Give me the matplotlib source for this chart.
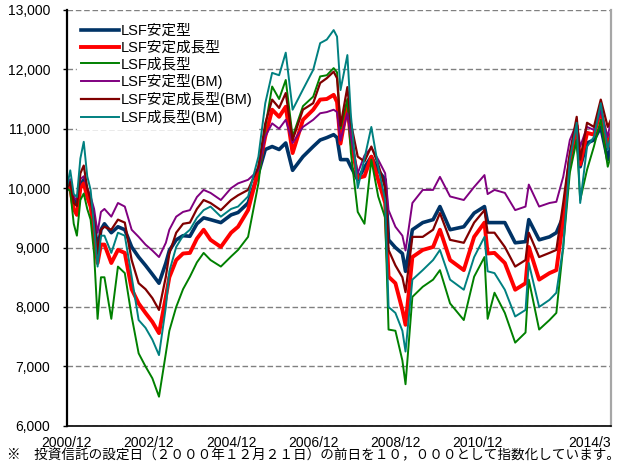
import numpy as np
import pandas as pd
import matplotlib
matplotlib.use("Agg")
from matplotlib import pyplot as plt
from matplotlib.ticker import FuncFormatter

plt.rcParams['font.family'] = ['Liberation Sans', 'Noto Sans CJK JP', 'DejaVu Sans']

# month of each reading (index = 10,000 on the day before 2000/12/21)
months = ["2000-12", "2001-01", "2001-02", "2001-03", "2001-04", "2001-05", "2001-06",
          "2001-07", "2001-08", "2001-09", "2001-10", "2001-11", "2002-01", "2002-03",
          "2002-05", "2002-07", "2002-09", "2002-11", "2003-01", "2003-03", "2003-05",
          "2003-06", "2003-08", "2003-10", "2003-12", "2004-02", "2004-04", "2004-06",
          "2004-09", "2004-12", "2005-02", "2005-05", "2005-08", "2005-10", "2005-12",
          "2006-02", "2006-04", "2006-06", "2006-09", "2006-12", "2007-02", "2007-04",
          "2007-06", "2007-07", "2007-08", "2007-10", "2007-11", "2008-01", "2008-03",
          "2008-05", "2008-07", "2008-09", "2008-10", "2008-12", "2009-02", "2009-03",
          "2009-05", "2009-08", "2009-11", "2010-01", "2010-04", "2010-08", "2010-11",
          "2011-02", "2011-03", "2011-05", "2011-08", "2011-11", "2012-02", "2012-03",
          "2012-06", "2012-09", "2012-11", "2013-01", "2013-03", "2013-05", "2013-06",
          "2013-08", "2013-10", "2013-12", "2014-02", "2014-03"]

antei = [10000, 10050, 9800, 9750, 10050, 10140, 9900, 9750, 9450, 8950, 9300, 9400, 9250, 9350,
         9300, 9010, 8840, 8700, 8550, 8400, 8740, 8950, 9130, 9200, 9190, 9400, 9500, 9470,
         9420, 9550, 9590, 9750, 10250, 10650, 10700, 10650, 10760, 10300, 10530, 10700, 10810, 10850,
         10900, 10850, 10480, 10480, 10360, 10140, 10350, 10530, 10300, 10140, 9130, 9000, 8900, 8600,
         9300, 9420, 9470, 9690, 9300, 9350, 9580, 9690, 9420, 9420, 9420, 9080, 9100, 9470,
         9130, 9180, 9250, 9520, 10480, 10860, 10360, 10760, 10810, 11030, 10480, 10700]
antei_seicho = [10000, 10000, 9650, 9550, 10000, 10080, 9850, 9690, 9250, 8740, 9050, 9050, 8740, 8960,
                8910, 8300, 8060, 7900, 7750, 7560, 8170, 8500, 8790, 8900, 8910, 9150, 9300, 9130,
                9010, 9250, 9350, 9630, 10300, 10870, 11320, 11200, 11370, 10590, 11150, 11320, 11490, 11500,
                11570, 11450, 10750, 11400, 10810, 10170, 10200, 10530, 10140, 9750, 8510, 8400, 7950, 7700,
                8840, 8960, 9010, 9300, 8790, 8620, 9180, 9420, 8900, 8910, 8740, 8290, 8400, 9010,
                8460, 8570, 8620, 9470, 10480, 11050, 10400, 10930, 10900, 11320, 10700, 10900]
seicho = [10000, 9950, 9400, 9200, 9800, 9910, 9650, 9470, 8900, 7800, 8500, 8500, 7800, 8680,
          8570, 7840, 7220, 7000, 6800, 6490, 7220, 7600, 8000, 8300, 8510, 8750, 8910, 8790,
          8680, 8850, 8960, 9180, 10080, 11030, 11710, 11500, 11820, 10870, 11380, 11540, 11880, 11900,
          12020, 11950, 11000, 11500, 10600, 9600, 9400, 10480, 9860, 9500, 7620, 7600, 7100, 6700,
          8170, 8340, 8460, 8620, 8060, 7780, 8510, 8840, 7800, 8240, 7900, 7400, 7570, 8460,
          7620, 7780, 7900, 9010, 10260, 10810, 9800, 10310, 10700, 11150, 10360, 10550]
antei_bm = [10000, 10150, 9850, 9800, 10150, 10200, 10000, 9860, 9650, 9250, 9600, 9650, 9520, 9750,
            9690, 9300, 9180, 9050, 8950, 8840, 9080, 9300, 9520, 9600, 9630, 9850, 9970, 9920,
            9800, 10000, 10080, 10140, 10300, 10870, 11090, 11000, 11150, 10760, 11030, 11150, 11260, 11280,
            11320, 11280, 10800, 11260, 10870, 10250, 10550, 10680, 10480, 10250, 9630, 9350, 9200, 8950,
            9750, 9970, 9970, 10190, 9860, 9800, 10020, 10220, 9900, 9970, 9920, 9630, 9690, 10060,
            9690, 9750, 9770, 10190, 10810, 11090, 10700, 11030, 10980, 11300, 10860, 11150]
antei_seicho_bm = [10000, 10100, 9750, 9700, 10250, 10380, 10000, 9800, 9450, 8900, 9300, 9350, 9300, 9470,
                   9420, 8790, 8400, 8300, 8150, 7950, 8510, 8900, 9250, 9400, 9420, 9650, 9800, 9750,
                   9630, 9800, 9880, 9970, 10360, 11090, 11490, 11350, 11600, 10810, 11320, 11430, 11770, 11850,
                   11960, 11850, 11050, 11700, 11100, 10530, 10450, 10700, 10400, 10000, 8960, 8700, 8500, 8250,
                   9180, 9180, 9300, 9580, 9130, 9080, 9420, 9630, 9250, 9250, 9010, 8680, 8790, 9250,
                   8840, 8910, 8960, 9750, 10590, 11200, 10480, 11100, 11030, 11490, 11030, 11150]
seicho_bm = [10000, 10300, 9900, 9850, 10500, 10780, 10200, 9970, 9350, 8680, 9200, 9200, 8910, 9250,
             9200, 8510, 7780, 7650, 7450, 7190, 8000, 8600, 9010, 9200, 9300, 9500, 9630, 9690,
             9520, 9650, 9690, 9860, 10530, 11430, 11940, 11900, 12280, 11320, 11660, 11990, 12440, 12500,
             12660, 12550, 11650, 12240, 11230, 10000, 10500, 11030, 10360, 9800, 8000, 7900, 7600, 7250,
             8460, 8620, 8790, 8960, 8460, 8290, 8840, 9180, 8600, 8570, 8290, 7840, 7950, 8740,
             8000, 8120, 8240, 9010, 10480, 11100, 9750, 10700, 10860, 11430, 10650, 10900]

labels = ["LSF安定型", "LSF安定成長型", "LSF成長型", "LSF安定型(BM)", "LSF安定成長型(BM)", "LSF成長型(BM)"]
colors = ["#003366", "#ff0000", "#008000", "#800080", "#800000", "#008080"]
widths = [2.6, 2.8, 1.4, 1.4, 1.6, 1.4]

x = pd.to_datetime(months, format="%Y-%m") + pd.Timedelta(days=15)

fig = plt.figure(figsize=(6.24, 4.7), dpi=100)
ax = fig.add_axes([0.107, 0.094, 0.872, 0.885])

series = [antei, antei_seicho, seicho, antei_bm, antei_seicho_bm, seicho_bm]
for s, lab, c, w in zip(series, labels, colors, widths):
    ax.plot(x, s, color=c, lw=w, label=lab)

ax.set_ylim(6000, 13000)
ax.set_yticks(np.arange(6000, 13001, 1000))
ax.yaxis.set_major_formatter(FuncFormatter(lambda v, p: f"{v:,.0f}"))
ax.set_xlim(x[0], x[-1])

tick_dates = pd.to_datetime(["2000-12", "2002-12", "2004-12", "2006-12", "2008-12", "2010-12", "2014-03"],
                            format="%Y-%m") + pd.Timedelta(days=15)
ax.set_xticks(tick_dates)
ax.set_xticklabels(["2000/12", "2002/12", "2004/12", "2006/12", "2008/12", "2010/12", "2014/3"])
ax.get_xticklabels()[-1].set_ha('right')

ax.grid(axis='y', color='#808080', ls=(0, (4, 2)), lw=1.0)
ax.set_axisbelow(True)
ax.tick_params(axis='x', length=0, pad=7, labelsize=10)
ax.tick_params(axis='y', length=3, width=1, pad=9, labelsize=10)
ax.spines['top'].set_visible(False)
ax.spines['left'].set_linewidth(1.6)
ax.spines['bottom'].set_linewidth(1.2)
ax.spines['right'].set_color('#a6a6a6')
ax.spines['right'].set_linewidth(1.6)

leg = ax.legend(loc='upper left', bbox_to_anchor=(0.0, 1.0), frameon=True, fancybox=False,
                edgecolor='white', facecolor='white', framealpha=1.0, fontsize=10.5,
                handlelength=2.6, handletextpad=0.15, labelspacing=0.2, borderpad=0.25,
                borderaxespad=0.7)
leg.set_zorder(5)

fig.text(0.012, 0.022, "※　投資信託の設定日（２０００年１２月２１日）の前日を１０，０００として指数化しています。",
         fontsize=9.8, family=['Noto Sans CJK JP', 'DejaVu Sans'], va='baseline')

fig.savefig("out.png", dpi=100)
